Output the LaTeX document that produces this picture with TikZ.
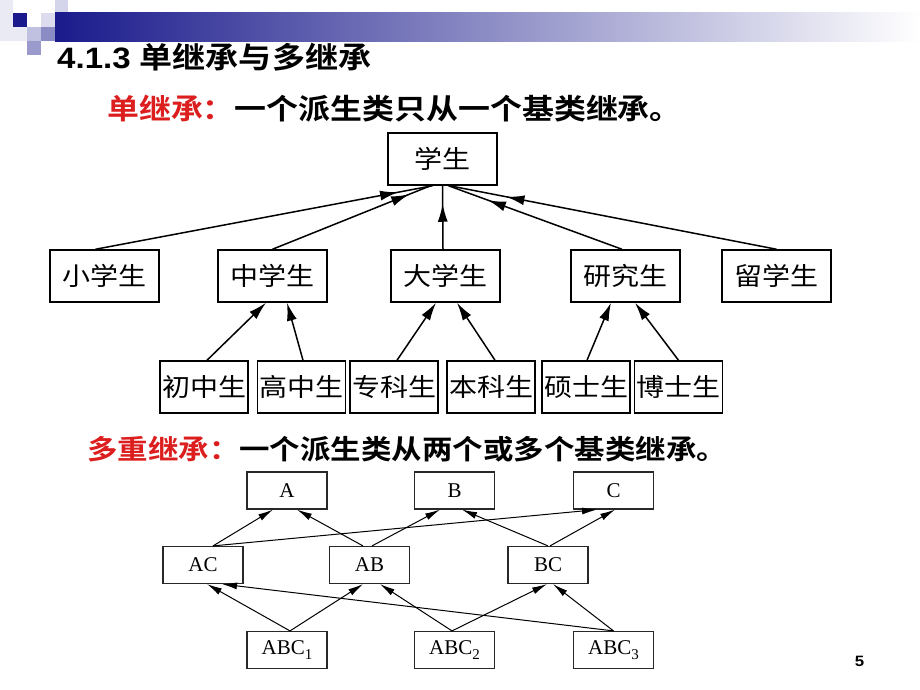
\documentclass[tikz,border=0pt]{standalone}
\usepackage{fontspec}
\usetikzlibrary{arrows.meta,decorations.markings}
\newfontfamily\cjkb{Noto Sans CJK SC Bold}[FakeStretch=1.12]
\newfontfamily\cjkr{Noto Sans CJK SC}[FakeStretch=1.12]
\newfontfamily\latb{Liberation Sans Bold}[FakeStretch=1.12]
\newfontfamily\tms{Liberation Serif}
\definecolor{hdred}{RGB}{220,30,30}
\definecolor{navy}{RGB}{26,26,140}
\definecolor{sqA}{RGB}{234,234,245}
\definecolor{sqB}{RGB}{212,212,234}
\definecolor{sqC}{RGB}{184,184,220}
\definecolor{sqD}{RGB}{192,192,224}
\definecolor{sqE}{RGB}{140,140,196}
\definecolor{sqF}{RGB}{154,154,204}
\definecolor{sqG}{RGB}{220,220,238}
\definecolor{lgray}{RGB}{40,40,40}
\begin{document}
\begin{tikzpicture}[x=1pt,y=-1pt,
  ubox/.style={draw, line width=1.5pt, minimum width=109pt, minimum height=52pt, inner sep=0pt,
    font=\cjkr\fontsize{25}{25}\selectfont},
  sbox/.style={ubox, minimum width=88pt},
  lbox/.style={draw=lgray, line width=1.2pt, minimum width=80pt, minimum height=37pt, inner sep=0pt,
    font=\tms\fontsize{21}{21}\selectfont},
  uline/.style={line width=1.5pt},
  midtip/.style={uline, postaction=decorate, decoration={markings,
    mark=at position -#1 with {\arrow{Latex[length=18pt,width=10pt]}}}},
  uarr/.style={uline, -{Latex[length=18pt,width=10pt]}},
  larr/.style={line width=1pt, -{Latex[length=15pt,width=7pt]}},
]
\useasboundingbox[fill=white] (0,0) rectangle (920,690);
% header decoration
\fill[sqA] (0,0) rectangle (13,13);
\fill[sqB] (55,0) rectangle (68,13);
\fill[sqA] (0,13) rectangle (13,27);
\fill[navy] (13,13) rectangle (27,27);
\fill[sqG] (41,13) rectangle (55,27);
\fill[sqA] (0,27) rectangle (27,41);
\fill[sqD] (27,27) rectangle (41,41);
\fill[sqE] (41,27) rectangle (55,41);
\fill[sqF] (27,41) rectangle (41,55);
\shade[left color=navy, right color=white] (55,13) rectangle (920,42);
% titles
\node[anchor=base west, inner sep=0pt] (title) at (57,69)
  {\fontsize{29.5}{29.5}\selectfont\latb 4.1.3 \cjkb 单继承与多继承};
\node[anchor=base west, inner sep=0pt] (line1) at (107,120)
  {\cjkb\fontsize{28.5}{28.5}\selectfont\textcolor{hdred}{单继承：}一个派生类只从一个基类继承。};
\node[anchor=base west, inner sep=0pt] (line2) at (87,459)
  {\cjkb\fontsize{27.2}{27.2}\selectfont\textcolor{hdred}{多重继承：}一个派生类从两个或多个基类继承。};
% upper diagram
\node[ubox] (xs) at (442.5,159) {学生};
\node[ubox] (xx) at (104.5,276) {小学生};
\node[ubox] (zx) at (272.5,276) {中学生};
\node[ubox] (dx) at (445.5,276) {大学生};
\node[ubox] (yj) at (625.5,276) {研究生};
\node[ubox] (lx) at (776.5,276) {留学生};
\node[sbox] (cz) at (204,387) {初中生};
\node[sbox] (gz) at (301.5,387) {高中生};
\node[sbox] (zk) at (394,387) {专科生};
\node[sbox] (bk) at (491,387) {本科生};
\node[sbox] (ss) at (586,387) {硕士生};
\node[sbox] (bs) at (678.5,387) {博士生};
\draw[midtip=35pt] ([xshift=-9pt]xx.north) -- ([xshift=-10pt]xs.south);
\draw[midtip=23pt] (zx.north) -- ([xshift=-12pt]xs.south);
\draw[midtip=18pt] ([xshift=-2.5pt]dx.north) -- (xs.south);
\draw[midtip=42pt] ([xshift=-3.5pt]yj.north) -- ([xshift=6pt]xs.south);
\draw[midtip=58pt] (lx.north) -- ([xshift=7pt]xs.south);
\draw[uarr] ([xshift=3pt]cz.north) -- ([xshift=-6.5pt]zx.south);
\draw[uarr] ([xshift=1.5pt]gz.north) -- ([xshift=14.5pt]zx.south);
\draw[uarr] ([xshift=3pt]zk.north) -- ([xshift=-9.5pt]dx.south);
\draw[uarr] ([xshift=4pt]bk.north) -- ([xshift=11.5pt]dx.south);
\draw[uarr] ([xshift=1pt]ss.north) -- ([xshift=-14.5pt]yj.south);
\draw[uarr] (bs.north) -- ([xshift=9.5pt]yj.south);
% lower diagram
\node[lbox] (A) at (287,490.5) {A};
\node[lbox] (B) at (454.5,490.5) {B};
\node[lbox] (C) at (613.5,490.5) {C};
\node[lbox] (AC) at (203,565) {AC};
\node[lbox] (AB) at (369.5,565) {AB};
\node[lbox] (BC) at (548,565) {BC};
\node[lbox] (ABCa) at (287,650) {ABC\raisebox{-5pt}{\fontsize{15}{15}\selectfont 1}};
\node[lbox] (ABCb) at (454.5,650) {ABC\raisebox{-5pt}{\fontsize{15}{15}\selectfont 2}};
\node[lbox] (ABCc) at (613.5,650) {ABC\raisebox{-5pt}{\fontsize{15}{15}\selectfont 3}};
\draw[larr] ([xshift=10pt]AC.north) -- ([xshift=-14pt]A.south);
\draw[larr] ([xshift=-6.5pt]AB.north) -- ([xshift=10pt]A.south);
\draw[larr] ([xshift=2.5pt]AB.north) -- ([xshift=-14.5pt]B.south);
\draw[larr] (BC.north) -- ([xshift=7.5pt]B.south);
\draw[larr] ([xshift=2pt]BC.north) -- ([xshift=1.5pt]C.south);
\draw[larr] ([xshift=10pt]AC.north) -- ([xshift=-16.5pt]C.south);
\draw[larr] ([xshift=3pt]ABCa.north) -- ([xshift=4pt]AC.south);
\draw[larr] ([xshift=3pt]ABCa.north) -- ([xshift=-6.5pt]AB.south);
\draw[larr] ([xshift=-2.5pt]ABCb.north) -- ([xshift=10.5pt]AB.south);
\draw[larr] ([xshift=-2.5pt]ABCb.north) -- ([xshift=-1pt]BC.south);
\draw[larr] (ABCc.north) -- ([xshift=5pt]BC.south);
\draw[larr] (ABCc.north) -- ([xshift=19pt]AC.south);
% page number
\node[inner sep=0pt] (pg) at (859.5,661) {\latb\fontsize{15}{15}\selectfont 5};
\end{tikzpicture}
\end{document}
